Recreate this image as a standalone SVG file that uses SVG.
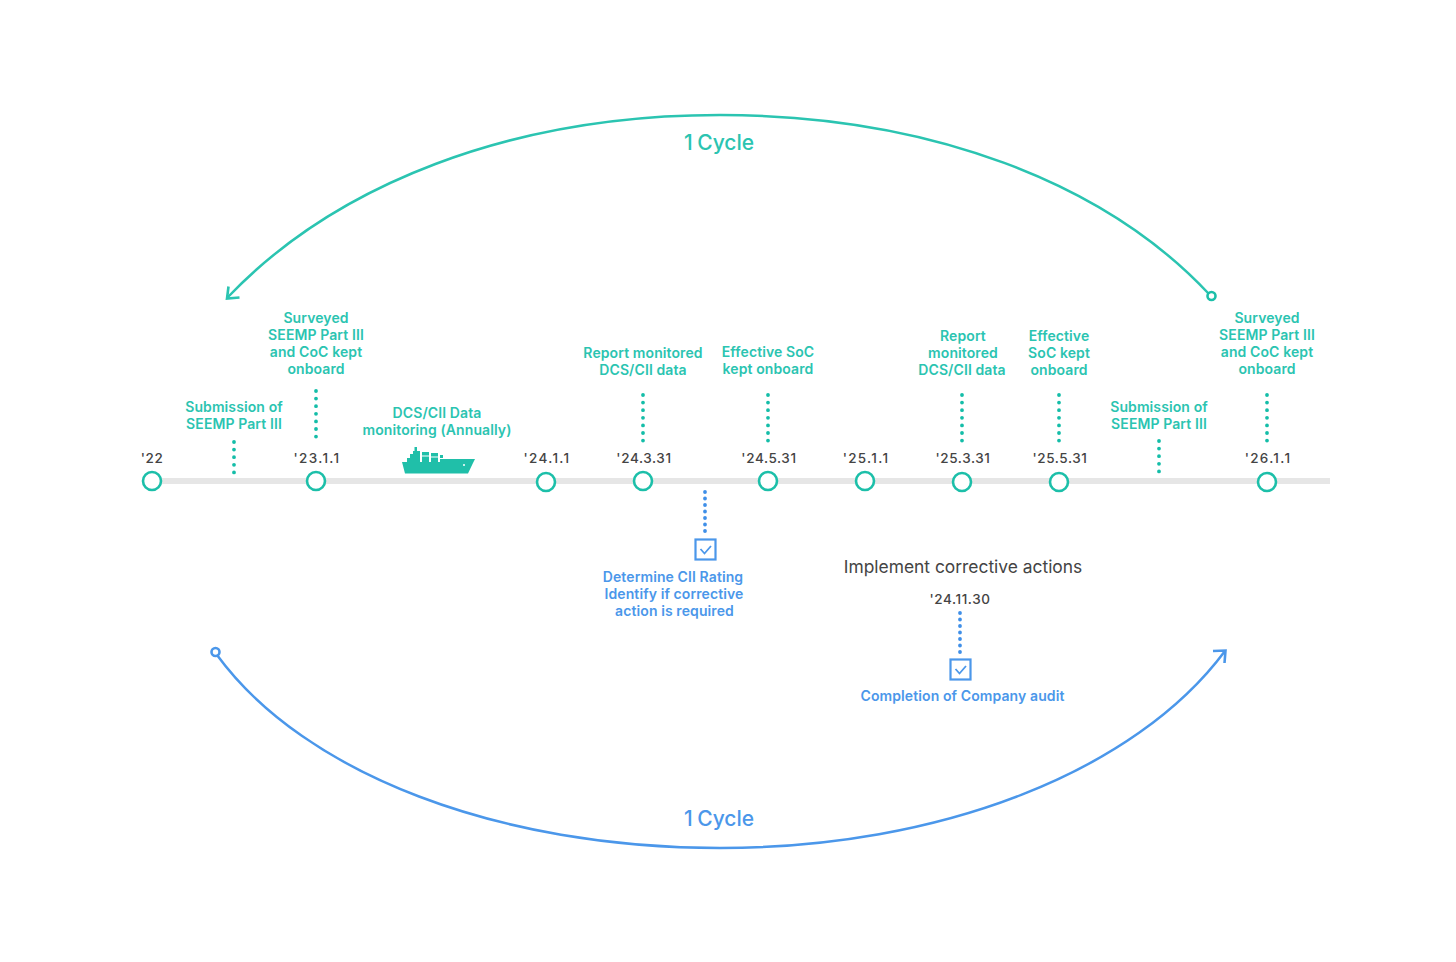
<svg xmlns="http://www.w3.org/2000/svg" width="1456" height="962" viewBox="0 0 1456 962">
<style>
text{font-family:Inter,"Liberation Sans",sans-serif;text-anchor:middle}
.t{fill:#2bc4b1;font-size:14px;font-weight:600;letter-spacing:.1px}
.b{fill:#4b97ea;font-size:14px;font-weight:600;letter-spacing:.1px}
.d{fill:#444;font-size:13.500px;font-weight:500;letter-spacing:1.300px}
.e{fill:#444;font-size:13.500px;font-weight:500;letter-spacing:.6px}
.c{font-size:21px;font-weight:500;word-spacing:-1px}
.n{fill:#fff;stroke:#1cbfa9;stroke-width:2.6}
.dt{fill:none;stroke:#14bda8;stroke-width:3.8;stroke-linecap:round;stroke-dasharray:0 7.6}
.db{fill:none;stroke:#3f8fe8;stroke-width:3.8;stroke-linecap:round;stroke-dasharray:0 6.5}
.box{fill:#fff;stroke:#4b97ea;stroke-width:2.2}
.chk{fill:none;stroke:#4b97ea;stroke-width:1.8}
</style>
<rect width="1456" height="962" fill="#fff"/>
<g id="connectors">
<rect x="152" y="478" width="1178" height="6" fill="#e6e6e6"/>
<path d="M1209 294C1105 183 930 115 720 115C510 115 335 185 228 297" fill="none" stroke="#2bc4b1" stroke-width="2.500"/>
<path d="M228.500 286.500L227 298.500L239.500 297.500" fill="none" stroke="#2bc4b1" stroke-width="2.600"/>
<path d="M217 655C305 775 500 848 720 848C940 848 1135 772 1225 651" fill="none" stroke="#4b97ea" stroke-width="2.500"/>
<path d="M1213 651L1225.500 650.500L1224.500 663" fill="none" stroke="#4b97ea" stroke-width="2.600"/>
<path class="dt" d="M234 442V473"/>
<path class="dt" d="M316 391V437"/>
<path class="dt" d="M643 395V442"/>
<path class="dt" d="M768 395V442"/>
<path class="dt" d="M962 395V442"/>
<path class="dt" d="M1059 395V442"/>
<path class="dt" d="M1159 441V472"/>
<path class="dt" d="M1267 395V442"/>
<path class="db" d="M705 492V532"/>
<path class="db" d="M960 613V653"/>
</g>
<g id="cycle-top"><circle cx="1211.500" cy="296" r="4" fill="#fff" stroke="#1cbfa9" stroke-width="2.600"/><text class="c" x="719" y="149.500" fill="#2bc4b1">1 Cycle</text></g>
<g id="cycle-bottom"><circle cx="215.500" cy="652" r="4" fill="#fff" stroke="#4b97ea" stroke-width="2.600"/><text class="c" x="719" y="825.500" fill="#4b97ea">1 Cycle</text></g>
<g id="n22"><circle class="n" cx="152" cy="481" r="9"/><text class="e" x="152" y="463">'22</text></g>
<g id="n23"><circle class="n" cx="316" cy="481" r="9"/><text class="d" x="317" y="463">'23.1.1</text></g>
<g id="n24"><circle class="n" cx="546" cy="482" r="9"/><text class="d" x="547" y="463">'24.1.1</text></g>
<g id="n2433"><circle class="n" cx="643" cy="481" r="9"/><text class="e" x="644" y="463">'24.3.31</text></g>
<g id="n2453"><circle class="n" cx="768" cy="481" r="9"/><text class="e" x="769" y="463">'24.5.31</text></g>
<g id="n25"><circle class="n" cx="865" cy="481" r="9"/><text class="d" x="866" y="463">'25.1.1</text></g>
<g id="n2533"><circle class="n" cx="962" cy="482" r="9"/><text class="e" x="963" y="463">'25.3.31</text></g>
<g id="n2553"><circle class="n" cx="1059" cy="482" r="9"/><text class="e" x="1060" y="463">'25.5.31</text></g>
<g id="n26"><circle class="n" cx="1267" cy="482" r="9"/><text class="d" x="1268" y="463">'26.1.1</text></g>
<g id="l-sub1"><text class="t" x="234" y="412">Submission of</text><text class="t" x="234" y="429">SEEMP Part III</text></g>
<g id="l-surv1"><text class="t" x="316" y="323">Surveyed</text><text class="t" x="316" y="340">SEEMP Part III</text><text class="t" x="316" y="357">and CoC kept</text><text class="t" x="316" y="374">onboard</text></g>
<g id="l-mon"><text class="t" x="437" y="418">DCS/CII Data</text><text class="t" x="437" y="435">monitoring (Annually)</text></g>
<g id="ship"><path fill="#20bfa9" d="M402 462H441L447 459H475L473 463L468 473.500H405Z"/><path fill="#20bfa9" d="M407 462V458H410V454H413V451H414.500V447H417V451H420V462ZM422 452H429V455.500H422ZM422 456.500H429V462H422ZM431 453H438V456.500H431ZM431 457.500H438V462H431ZM440 455H443V458H440ZM440 459H447V462H440Z"/><circle cx="464" cy="465" r="1" fill="#fff"/></g>
<g id="l-rep1"><text class="t" x="643" y="358">Report monitored</text><text class="t" x="643" y="375">DCS/CII data</text></g>
<g id="l-soc1"><text class="t" x="768" y="357">Effective SoC</text><text class="t" x="768" y="374">kept onboard</text></g>
<g id="l-rep2"><text class="t" x="963" y="340.500">Report</text><text class="t" x="963" y="357.500">monitored</text><text class="t" x="962" y="374.500">DCS/CII data</text></g>
<g id="l-soc2"><text class="t" x="1059" y="341">Effective</text><text class="t" x="1059" y="358">SoC kept</text><text class="t" x="1059" y="375">onboard</text></g>
<g id="l-sub2"><text class="t" x="1159" y="412">Submission of</text><text class="t" x="1159" y="429">SEEMP Part III</text></g>
<g id="l-surv2"><text class="t" x="1267" y="323">Surveyed</text><text class="t" x="1267" y="340">SEEMP Part III</text><text class="t" x="1267" y="357">and CoC kept</text><text class="t" x="1267" y="374">onboard</text></g>
<g id="check1"><rect class="box" x="695.500" y="539.500" width="20" height="20"/><path class="chk" d="M700.500 549L704.500 553.500L711 546"/></g>
<g id="l-cii"><text class="b" x="673" y="582">Determine CII Rating</text><text class="b" x="674" y="599">Identify if corrective</text><text class="b" x="674.500" y="616">action is required</text></g>
<g id="l-impl"><text x="963" y="573" fill="#444" font-size="17.400">Implement corrective actions</text></g>
<g id="n24113"><text class="e" x="960" y="604">'24.11.30</text></g>
<g id="check2"><rect class="box" x="950.500" y="659.500" width="20" height="20"/><path class="chk" d="M955.500 669L959.500 673.500L966 666"/></g>
<g id="l-audit"><text class="b" x="962.500" y="701">Completion of Company audit</text></g>
</svg>
